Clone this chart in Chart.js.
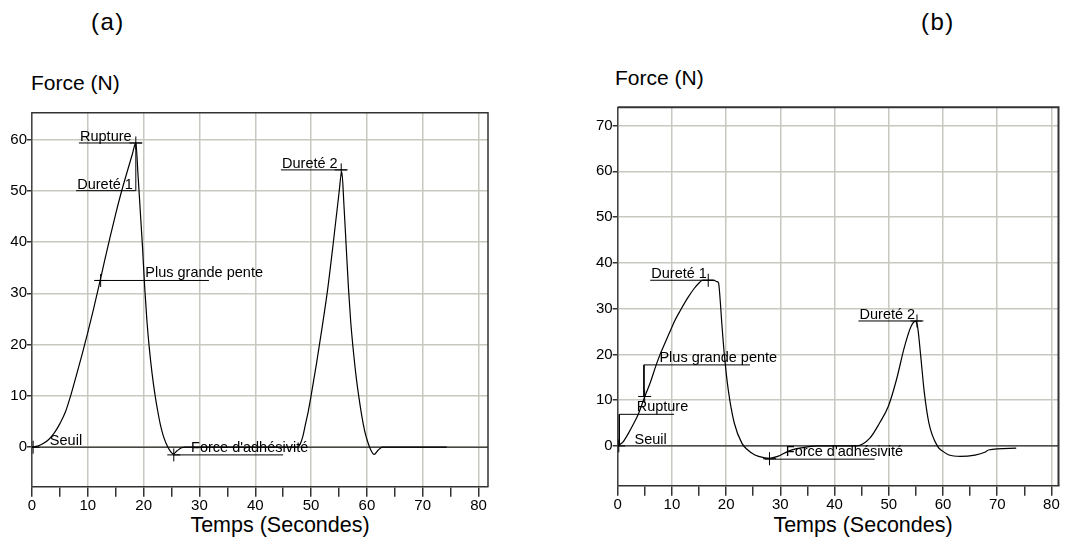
<!DOCTYPE html>
<html>
<head>
<meta charset="utf-8">
<script src="https://cdn.jsdelivr.net/npm/chart.js@4.4.1/dist/chart.umd.min.js"></script>
<style>
  body { margin: 0; background: #fff; width: 1066px; height: 542px; position: relative; overflow: hidden; font-family: "Liberation Sans", Arial, sans-serif; }
  canvas { position: absolute; top: 0; }
  .t { position: absolute; white-space: nowrap; color: #000; line-height: 1; }
</style>
</head>
<body>
<div class="t" style="left:91px;top:10px;font-size:24px;letter-spacing:1.5px">(a)</div>
<div class="t" style="left:921px;top:10px;font-size:24px;letter-spacing:1.5px">(b)</div>
<div class="t" style="left:31px;top:72px;font-size:21px">Force (N)</div>
<div class="t" style="left:615px;top:67px;font-size:21px">Force (N)</div>
<div class="t" style="left:280px;top:515px;font-size:21.5px;transform:translateX(-50%)">Temps (Secondes)</div>
<div class="t" style="left:863px;top:515px;font-size:21.5px;transform:translateX(-50%)">Temps (Secondes)</div>
<canvas id="ca" width="560" height="542" style="left:0"></canvas>
<canvas id="cb" width="506" height="542" style="left:560px"></canvas>
<script>
// (a) force curve, time in s / force in N
const timeA = [0, 1, 2, 3, 4, 5, 6, 7, 8, 9, 10, 11, 12, 13, 14, 15, 16, 17, 18, 18.6,
  19.0, 19.4, 19.8, 20.2, 20.6, 21, 21.5, 22, 22.5, 23, 23.5, 24, 24.5, 25.3, 26, 26.8, 27.5, 47.5,
  48, 48.5, 49, 49.5, 50, 51, 52, 53, 54, 55, 55.5,
  55.9, 56.3, 56.7, 57.1, 57.6, 58.1, 58.6, 59.1, 59.6, 60.1, 60.6, 61.3, 62, 62.8, 74.3];
const forceA = [0, 0.2, 0.7, 1.5, 2.8, 4.6, 6.9, 10.3, 14.2, 18.2, 22.4, 26.8, 31.5, 36.3, 41, 45.5, 49.7, 53.5, 57.2, 59.3,
  53, 46, 39, 31, 24.5, 19.5, 14.5, 10.5, 7.2, 4.4, 2.3, 0.8, -0.3, -1.3, -0.7, -0.1, 0, 0,
  0.5, 2, 4.5, 7, 10, 16.5, 23.5, 31, 40, 49.5, 53.7,
  47, 39, 31, 24.5, 18.5, 13.5, 9.5, 6, 3.2, 1.2, -0.3, -1.4, -0.6, 0, 0];

// (b) force curve
const timeB = [0, 1, 2, 3, 3.75, 5, 6, 7.1, 8, 9.5, 10.5, 11.6, 13, 14.1, 15, 15.6, 17.7, 18.3, 18.6,
  18.9, 19.2, 19.7, 20.4, 21.5, 22.9, 24, 25.3, 27.1, 28, 29.5, 31.4, 33, 35, 37, 44.1,
  46.5, 48.3, 49.9, 51.4, 52.9, 54.1, 54.9, 55.3, 55.9, 56.5, 57.4, 59, 60, 61.1, 63.2, 65.9, 67.7, 68.4, 73.5];
const forceB = [0, 0.9, 2.8, 5, 6.8, 10.8, 13.8, 17.7, 20.5, 24.6, 27.3, 29.7, 32.5, 34.4, 35.6, 36.2, 36.2, 35.9, 35.6,
  31.9, 26.8, 19.5, 12.2, 5, 0.6, -0.9, -2, -2.6, -2.7, -2.3, -1.2, -0.6, -0.2, 0, 0,
  1.7, 5, 8.6, 14.4, 21.7, 26.1, 27.2, 26.1, 19.5, 12.2, 5, -0.1, -1.2, -2, -2.3, -2, -1.4, -0.9, -0.5];

// axis ranges and ticks
const xRangeA = [0, 81.7], yRangeA = [-7.7, 65.2];
const xRangeB = [0, 81.3], yRangeB = [-8.7, 74.0];
const xTicks = [0, 5, 10, 15, 20, 25, 30, 35, 40, 45, 50, 55, 60, 65, 70, 75, 80];
const yTicksA = [0, 10, 20, 30, 40, 50, 60];
const yTicksB = [0, 10, 20, 30, 40, 50, 60, 70];

// annotation texts (baseline-left anchor, data units)
const labelsA = ['Rupture', 'Dureté 1', 'Plus grande pente', 'Seuil', "Force d'adhésivité", 'Dureté 2'];
const labelXA = [8.6, 8.1, 20.3, 3.2, 28.5, 44.8];
const labelYA = [59.7, 50.35, 33.1, 0.45, -0.9, 54.5];
const labelsB = ['Dureté 1', 'Plus grande pente', 'Rupture', 'Seuil', "Force d'adhésivité", 'Dureté 2'];
const labelXB = [6.2, 7.7, 3.5, 3.1, 31.0, 44.6];
const labelYB = [36.8, 18.4, 7.7, 0.44, -2.3, 27.7];

// leader lines and markers
const guidesA = [
  [[8.4, 59.3], [19.7, 59.3]],
  [[7.9, 50], [18.6, 50], [18.6, 59.3]],
  [[11.3, 32.5], [31.7, 32.5]],
  [[25.3, -1.5], [45, -1.5]],
  [[44.6, 54.05], [56.4, 54.05]]
];
const marksA = [[18.6, 59.3], [12.3, 32.5], [0.2, 0], [25.4, -1.5], [55.4, 54.05]];
const guidesB = [
  [[6.0, 36.2], [17.7, 36.2]],
  [[24.4, 17.7], [4.84, 17.7], [4.84, 10.8]],
  [[10.4, 6.9], [0.3, 6.9], [0.3, 0]],
  [[27.1, -2.9], [47.4, -2.9]],
  [[44.4, 27.3], [56.1, 27.3]]
];
const marksB = [[16.7, 36.2], [4.97, 10.8], [0.2, 0], [28.0, -2.8], [55.2, 27.3]];

const FONT = '"Liberation Sans", Arial, sans-serif';
const GRID = '#c8c8c0';

// texts + top/right frame
const notes = {
  id: 'notes',
  afterDatasetsDraw(chart, args, o) {
    const { ctx, chartArea: a, scales: { x, y } } = chart;
    ctx.save();
    ctx.strokeStyle = '#333';
    ctx.lineWidth = o.frame;
    ctx.beginPath();
    ctx.moveTo(a.left, a.top);
    ctx.lineTo(a.right, a.top);
    ctx.lineTo(a.right, a.bottom);
    ctx.stroke();
    ctx.font = '14.5px ' + FONT;
    ctx.fillStyle = '#000';
    ctx.textBaseline = 'alphabetic';
    o.labels.forEach((t, i) => ctx.fillText(t, x.getPixelForValue(o.lx[i]), y.getPixelForValue(o.ly[i])));
    ctx.restore();
  }
};

function pts(xs, ys) { return xs.map((v, i) => ({ x: v, y: ys[i] })); }

function makeChart(id, c) {
  const datasets = [
    { data: [{ x: c.xr[0], y: 0 }, { x: c.xr[1], y: 0 }], borderColor: '#000', borderWidth: 1, pointRadius: 0, tension: 0 },
    { data: pts(c.t, c.f), borderColor: '#000', borderWidth: 1.2, pointRadius: 0, cubicInterpolationMode: 'monotone' }
  ];
  c.guides.forEach(g => datasets.push({
    data: g.map(([x, y]) => ({ x, y })), borderColor: '#000', borderWidth: 1, pointRadius: 0, tension: 0
  }));
  datasets.push({
    data: c.marks.map(([x, y]) => ({ x, y })), showLine: false, pointStyle: 'cross',
    pointRadius: 6.5, borderColor: '#000', borderWidth: 1
  });

  return new Chart(document.getElementById(id), {
    type: 'line',
    data: { datasets },
    plugins: [notes],
    options: {
      responsive: false,
      animation: false,
      layout: { padding: { top: c.top, right: c.right, left: 0, bottom: 0 } },
      plugins: {
        legend: { display: false },
        tooltip: { enabled: false },
        notes: { labels: c.labels, lx: c.lx, ly: c.ly, frame: c.frame }
      },
      scales: {
        x: {
          type: 'linear', min: c.xr[0], max: c.xr[1],
          afterBuildTicks: s => { s.ticks = xTicks.map(v => ({ value: v })); },
          afterFit: s => { s.height = c.xh; s.paddingLeft = 0; s.paddingRight = 0; },
          ticks: {
            color: '#000', font: { family: FONT, size: 15 }, padding: 0, maxRotation: 0, autoSkip: false,
            callback: v => (v % 10 === 0 ? v : '')
          },
          grid: {
            color: ctx => (ctx.tick && ctx.tick.value % 10 === 0 ? GRID : 'rgba(0,0,0,0)'),
            tickColor: '#333', lineWidth: 1.5, tickLength: 10
          },
          border: { color: '#333', width: 1.5 }
        },
        y: {
          type: 'linear', min: c.yr[0], max: c.yr[1],
          afterBuildTicks: s => { s.ticks = c.yt.map(v => ({ value: v })); },
          afterFit: s => { s.width = c.yw; s.paddingTop = 0; s.paddingBottom = 0; },
          ticks: { color: '#000', font: { family: FONT, size: 15 }, padding: 0 },
          grid: { color: GRID, tickColor: '#333', lineWidth: 1.5, tickLength: 5 },
          border: { color: '#444', width: 1.5 }
        }
      }
    }
  });
}

makeChart('ca', {
  t: timeA, f: forceA, xr: xRangeA, yr: yRangeA, yt: yTicksA,
  guides: guidesA, marks: marksA, labels: labelsA, lx: labelXA, ly: labelYA,
  top: 112.7, right: 72, yw: 32, xh: 55.3, frame: 1.5
});
makeChart('cb', {
  t: timeB, f: forceB, xr: xRangeB, yr: yRangeB, yt: yTicksB,
  guides: guidesB, marks: marksB, labels: labelsB, lx: labelXB, ly: labelYB,
  top: 107.3, right: 1.7, yw: 57.7, xh: 56.3, frame: 2
});
</script>
</body>
</html>
